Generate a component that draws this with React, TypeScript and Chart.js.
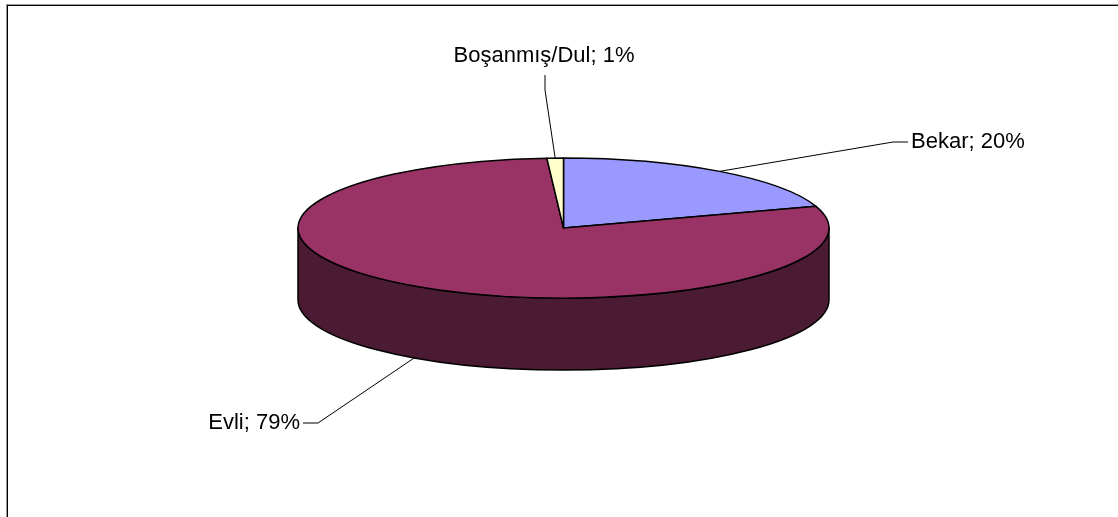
import React, { useEffect, useRef } from "react";
import { Chart, registerables } from "chart.js";

Chart.register(...registerables);

const categories = ["Bekar", "Evli", "Boşanmış/Dul"];
const values = [20, 79, 1];
const topColors = ["#9999FF", "#993366", "#FFFFCC"];
const sideColors = ["#4D4D80", "#4B1A33", "#808066"];

const labelPlacements = [
  { leader: [[893, 142], [908, 142]], text: [911, 142], align: "left" },
  { leader: [[318, 423], [303, 423]], text: [300, 423], align: "right" },
  { leader: [[545, 90], [545, 75]], text: [544, 56], align: "center" },
];

const pie3d = {
  id: "pie3d",
  beforeDatasetsDraw(chart: any, _args: any, opts: any) {
    const ctx = chart.ctx as CanvasRenderingContext2D;
    const meta = chart.getDatasetMeta(0);
    const { cx, cy, rx, ry, depth } = opts;
    const arcs = meta.data;
    ctx.save();
    ctx.lineWidth = 1.5;
    ctx.strokeStyle = "#000";
    ctx.lineJoin = "round";
    // side walls (front half only)
    arcs.forEach((arc: any, i: number) => {
      const s = arc.startAngle, e = arc.endAngle;
      const a1 = Math.max(s, 0), a2 = Math.min(e, Math.PI);
      if (a2 <= a1) return;
      ctx.beginPath();
      ctx.ellipse(cx, cy, rx, ry, 0, a1, a2);
      ctx.lineTo(cx + rx * Math.cos(a2), cy + depth + ry * Math.sin(a2));
      ctx.ellipse(cx, cy + depth, rx, ry, 0, a2, a1, true);
      ctx.closePath();
      ctx.fillStyle = sideColors[i];
      ctx.fill();
      ctx.stroke();
    });
    // top faces
    arcs.forEach((arc: any, i: number) => {
      const s = arc.startAngle, e = arc.endAngle;
      ctx.beginPath();
      ctx.moveTo(cx, cy);
      ctx.ellipse(cx, cy, rx, ry, 0, s, e);
      ctx.closePath();
      ctx.fillStyle = arc.options.backgroundColor;
      ctx.fill();
      ctx.stroke();
    });
    ctx.restore();
    return false;
  },
  afterDraw(chart: any, _args: any, opts: any) {
    const ctx = chart.ctx as CanvasRenderingContext2D;
    const meta = chart.getDatasetMeta(0);
    const { cx, cy, rx, ry, depth } = opts;
    const total = values.reduce((a, b) => a + b, 0);
    ctx.save();
    // leaders + labels
    meta.data.forEach((arc: any, i: number) => {
      const m = (arc.startAngle + arc.endAngle) / 2;
      let ax = cx + rx * Math.cos(m);
      let ay = cy + ry * Math.sin(m);
      if (Math.sin(m) > 0) ay += depth;
      const p = labelPlacements[i];
      ctx.beginPath();
      ctx.moveTo(ax, ay);
      p.leader.forEach((pt) => ctx.lineTo(pt[0], pt[1]));
      ctx.strokeStyle = "#000";
      ctx.lineWidth = 1;
      ctx.stroke();
      ctx.fillStyle = "#000";
      ctx.font = "22px 'Liberation Sans', Arial, sans-serif";
      ctx.textBaseline = "middle";
      ctx.textAlign = p.align as CanvasTextAlign;
      const pct = Math.round((values[i] / total) * 100);
      ctx.fillText(`${categories[i]}; ${pct}%`, p.text[0], p.text[1]);
    });
    // chart area border (clipped at right/bottom)
    ctx.fillStyle = "#9a9a9a";
    ctx.fillRect(6, 4, chart.width, 1);
    ctx.fillRect(6, 4, 1, chart.height);
    ctx.fillStyle = "#000";
    ctx.fillRect(7, 5, chart.width, 1);
    ctx.fillRect(7, 5, 1, chart.height);
    ctx.restore();
  },
};

export default function App() {
  const ref = useRef<HTMLCanvasElement>(null);
  useEffect(() => {
    document.body.style.margin = "0";
    const chart = new Chart(ref.current!, {
      type: "pie",
      data: {
        labels: categories,
        datasets: [{ data: values, backgroundColor: topColors, borderColor: "#000", borderWidth: 1 }],
      },
      options: {
        animation: false,
        responsive: true,
        maintainAspectRatio: false,
        plugins: {
          legend: { display: false },
          tooltip: { enabled: false },
          // @ts-ignore
          pie3d: { cx: 563.5, cy: 228, rx: 265.5, ry: 70, depth: 72 },
        },
      },
      plugins: [pie3d as any],
    });
    return () => chart.destroy();
  }, []);
  return (
    <div style={{ width: 1118, height: 517, position: "relative", background: "#fff" }}>
      <canvas ref={ref} />
    </div>
  );
}
